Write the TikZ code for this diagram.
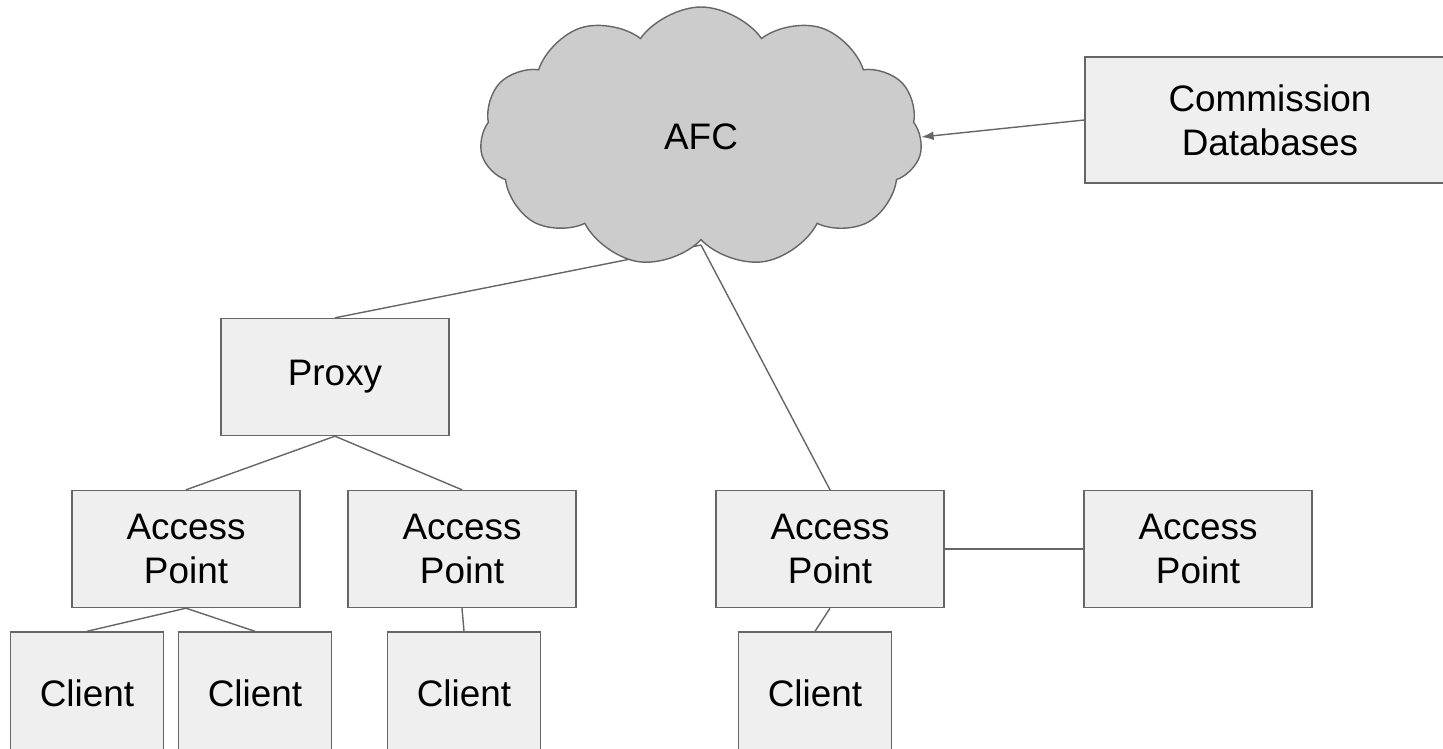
\documentclass[tikz,border=0pt]{standalone}
\usepackage{fontspec}
\setmainfont{Liberation Sans}
\usetikzlibrary{shapes.symbols,arrows.meta}
\definecolor{boxfill}{HTML}{EFEFEF}
\definecolor{cloudfill}{HTML}{CCCCCC}
\definecolor{edge}{HTML}{666666}
\begin{document}
\begin{tikzpicture}[x=.02cm,y=-.02cm,
  box/.style={draw=edge,fill=boxfill,line width=.8pt,minimum width=4.56cm,minimum height=2.34cm,align=center,font=\fontsize{21}{25}\selectfont},
  clientbox/.style={box,minimum width=3.06cm,minimum height=2.44cm},
  link/.style={draw=edge,line width=.8pt}]
\useasboundingbox (0,0) rectangle (1443,749);
\node [box] (proxy) at (335,377) {Proxy};
\node [box] (ap1) at (186,549) {Access\\Point};
\node [box] (ap2) at (462,549) {Access\\Point};
\node [box] (ap3) at (830,549) {Access\\Point};
\node [box] (ap4) at (1198,549) {Access\\Point};

\node [clientbox] (cl1) at (87,693) {Client};
\node [clientbox] (cl2) at (255,693) {Client};
\node [clientbox] (cl3) at (464,693) {Client};
\node [clientbox] (cl4) at (815,693) {Client};

% links to the cloud go under it
\coordinate (afcfoot) at (701,245);
\draw [link] (afcfoot) -- (proxy.north);
\draw [link] (afcfoot) -- (ap3.north);

\node [cloud,cloud puffs=11,cloud puff arc=110,aspect=1.7,draw=edge,fill=cloudfill,line width=.8pt,
  minimum width=8.85cm,minimum height=5.2cm,inner sep=0pt,font=\fontsize{21}{25}\selectfont] (afc) at (701,137) {AFC};
\node [box,minimum width=7.4cm,minimum height=2.52cm] (db) at (1270,120) {Commission\\Databases};

\draw [link,-{Latex[length=7pt,width=5pt]}] (db.west) -- (afc.east);
\draw [link] (proxy.south) -- (ap1.north);
\draw [link] (proxy.south) -- (ap2.north);
\draw [link] (ap1.south) -- (cl1.north);
\draw [link] (ap1.south) -- (cl2.north);
\draw [link] (ap2.south) -- (cl3.north);
\draw [link] (ap3.south) -- (cl4.north);
\draw [link] (ap3.east) -- (ap4.west);
\end{tikzpicture}
\end{document}
